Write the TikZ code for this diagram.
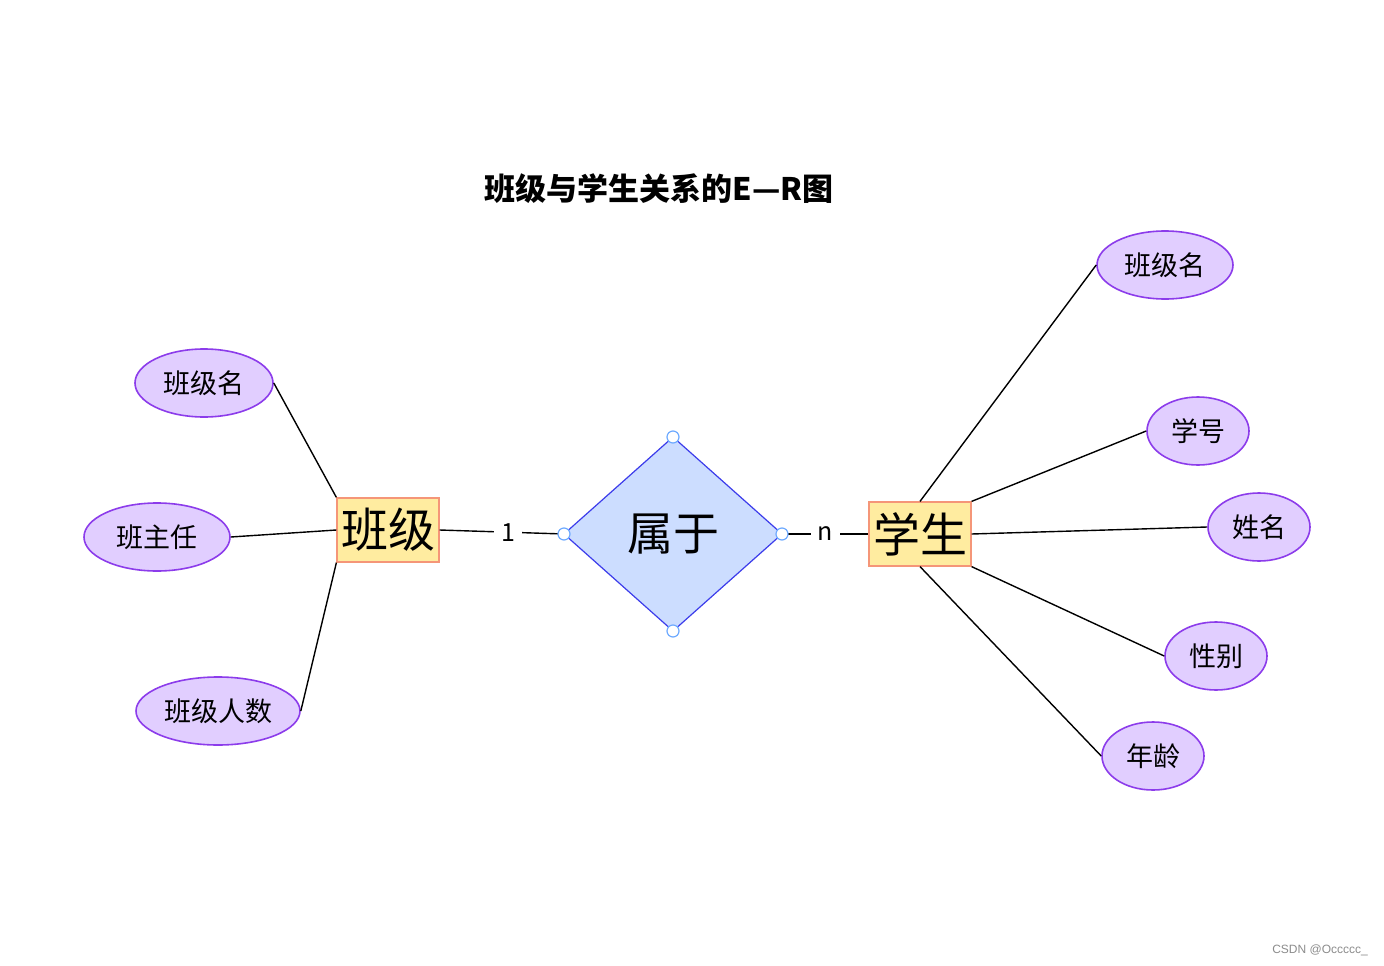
\documentclass[tikz,border=0pt]{standalone}
\usepackage{fontspec}
\setmainfont{Noto Sans CJK SC}
\newfontfamily\wmfont{Liberation Sans}
\usetikzlibrary{shapes.geometric}
\definecolor{entfill}{RGB}{255,236,160}
\definecolor{entdraw}{RGB}{245,150,120}
\definecolor{relfill}{RGB}{204,221,255}
\definecolor{reldraw}{RGB}{60,60,235}
\definecolor{attfill}{RGB}{225,206,255}
\definecolor{attdraw}{RGB}{140,60,235}
\definecolor{handle}{RGB}{110,170,255}
\tikzset{
  entity/.style={draw=entdraw, fill=entfill, line width=1.2pt, minimum width=102pt, minimum height=64pt, inner sep=0pt, font=\fontsize{47}{50}\selectfont},
  attr/.style={ellipse, draw=attdraw, fill=attfill, line width=1.6pt, minimum height=68pt, inner sep=0pt, font=\fontsize{27}{30}\selectfont},
  hdl/.style={circle, draw=handle, fill=white, line width=1.2pt, minimum size=12pt, inner sep=0pt},
  link/.style={draw=black, line width=1.4pt},
  card/.style={fill=white, inner xsep=7pt, inner ysep=2pt, font=\fontsize{25}{28}\selectfont}
}
\begin{document}
\begin{tikzpicture}[x=1pt, y=-1pt]
\useasboundingbox[fill=white] (0,0) rectangle (1384,966);
\node[font=\fontsize{31}{34}\selectfont\bfseries] (title) at (659,189) {班级与学生关系的E—R图};

\node[entity] (cls) at (388,530) {班级};
\node[entity] (stu) at (920,534) {学生};
\path[draw=reldraw, fill=relfill, line width=1.2pt] (673,437) coordinate (rt) -- (782,534) coordinate (rr) -- (673,631) coordinate (rb) -- (564,534) coordinate (rl) -- cycle;
\node[font=\fontsize{46}{50}\selectfont] (reltext) at (673,534) {属于};

% attributes left
\node[attr, minimum width=138pt] (a1) at (204,383) {班级名};
\node[attr, minimum width=146pt] (a2) at (157,537) {班主任};
\node[attr, minimum width=164pt] (a3) at (218,711) {班级人数};
% attributes right
\node[attr, minimum width=136pt] (b1) at (1165,265) {班级名};
\node[attr, minimum width=102pt] (b2) at (1198,431) {学号};
\node[attr, minimum width=102pt] (b3) at (1259,527) {姓名};
\node[attr, minimum width=102pt] (b4) at (1216,656) {性别};
\node[attr, minimum width=102pt] (b5) at (1153,756) {年龄};

% connectors
\draw[link] (a1.east) -- (cls.north west);
\draw[link] (a2.east) -- (cls.west);
\draw[link] (a3.east) -- (cls.south west);
\draw[link] (stu.north) -- (b1.west);
\draw[link] (stu.north east) -- (b2.west);
\draw[link] (stu.east) -- (b3.west);
\draw[link] (stu.south east) -- (b4.west);
\draw[link] (stu.south) -- (b5.west);
\draw[link] (cls.east) -- node[card, pos=0.55] (c1) {1} (rl);
\draw[link] (rr) -- node[card, pos=0.5] (c2) {n} (stu.west);

% handles
\node[hdl] (h1) at (rt) {};
\node[hdl] (h2) at (rr) {};
\node[hdl] (h3) at (rb) {};
\node[hdl] (h4) at (rl) {};

\node[font=\wmfont\fontsize{12}{14}\selectfont, text=black!45] (wm) at (1320,950) {CSDN @Occccc\_};
\end{tikzpicture}
\end{document}
